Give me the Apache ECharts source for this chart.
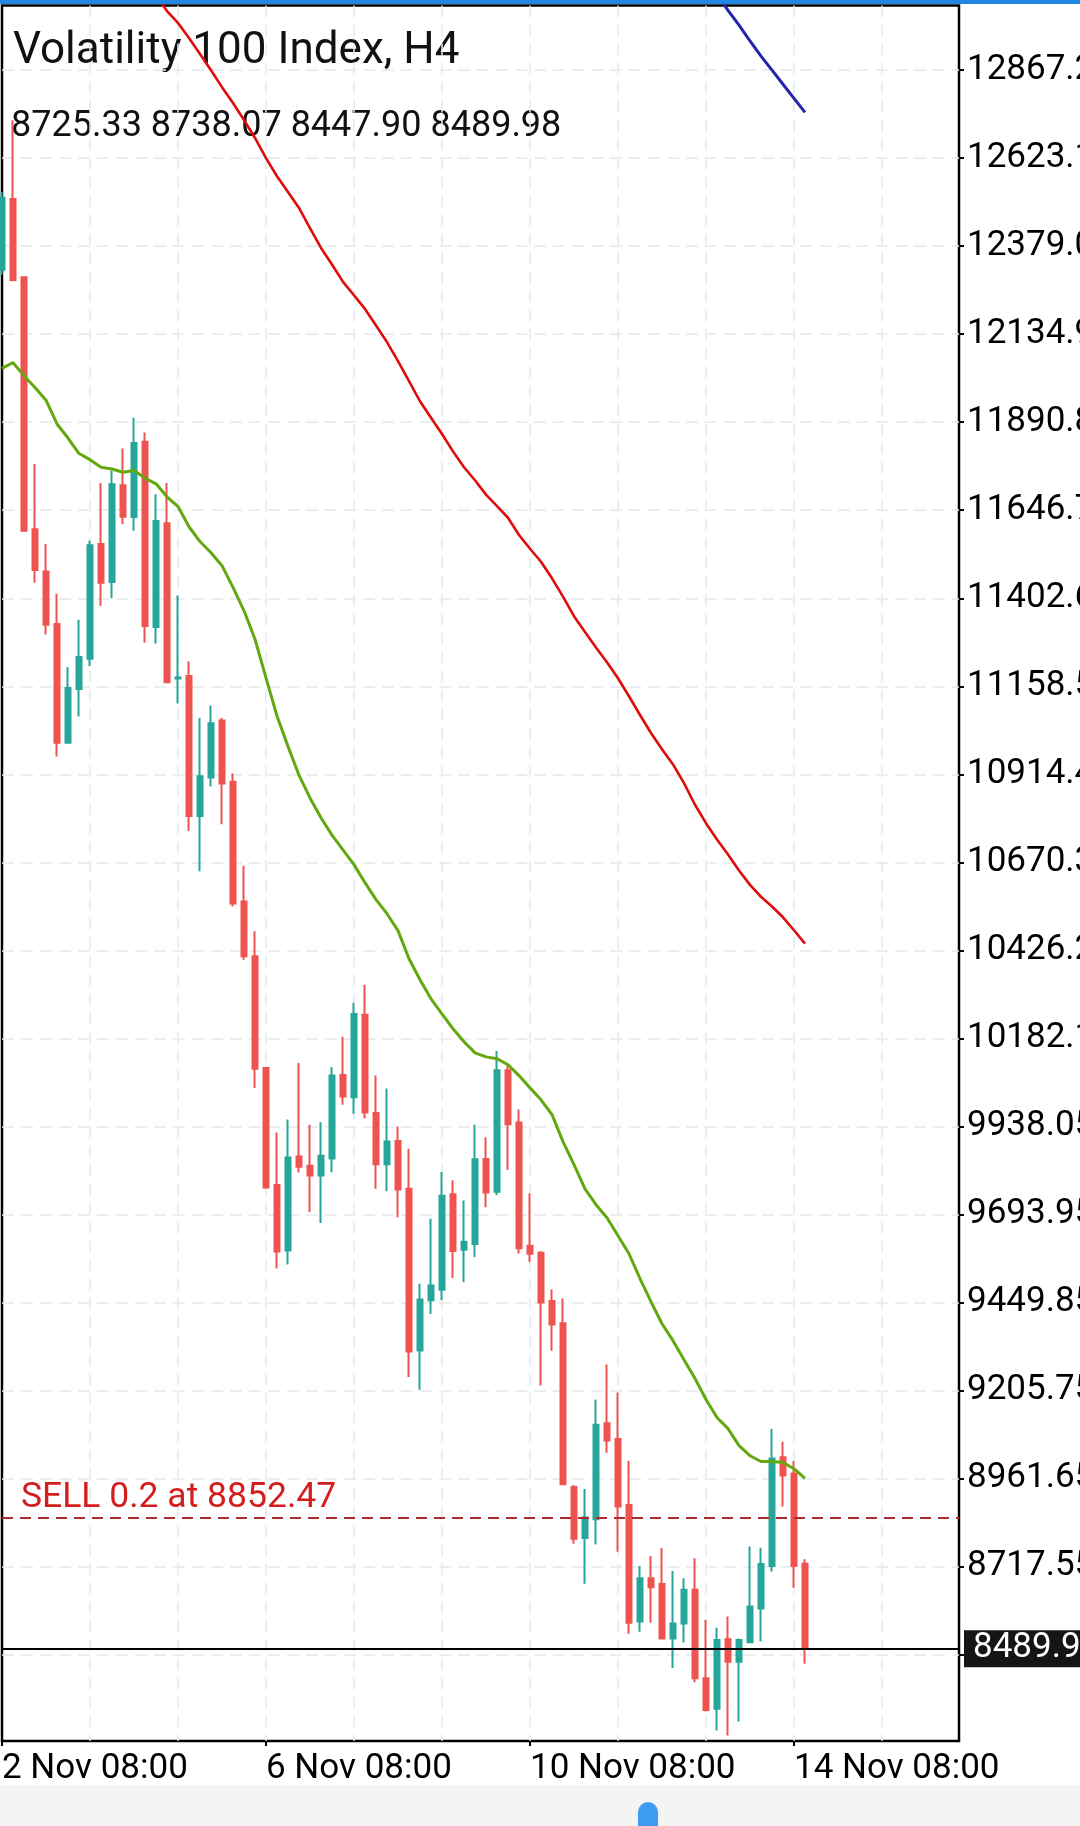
<!DOCTYPE html>
<html>
<head>
<meta charset="utf-8">
<script src="https://cdn.jsdelivr.net/npm/echarts@6/dist/echarts.min.js"></script>
<style>
html,body{margin:0;padding:0;background:#ffffff;}
#c{width:1080px;height:1826px;}
</style>
</head>
<body>
<div id="c"></div>
<script>
// ---------- data ----------
const symbolName = 'Volatility 100 Index, H4';

// H4 bars starting 2 Nov 08:00
const startDay = 2;
const startHour = 8;
const totalSlots = 88; // bars shown + empty space on the right

const barOpen = [
  12313.9, 12510, 12293, 11594, 11477, 11331, 11002, 11151, 11235, 11553,
  11448, 11716, 11628, 11837, 11323, 11611, 11180, 11187, 10799, 10906,
  11064, 10894, 10562, 10410, 10100, 9776, 9594, 9855, 9829, 9802,
  9849, 10081, 10019, 10248, 9975, 9833, 9898, 9765, 9317, 9456,
  9485, 9750, 9596, 9612, 9848, 9757, 10094, 9949, 9607, 9588,
  9454, 9392, 8938, 8797, 8849, 9115, 9071, 8888, 8565, 8685,
  8669, 8518, 8560, 8653, 8408, 8323, 8516, 8454, 8508, 8601,
  8719, 9021, 8976, 8725.33
];
const barHigh = [
  12530, 12728, 12295, 11775, 11553, 11415, 11212, 11343, 11563, 11722,
  11757, 11818, 11903, 11862, 11691, 11722, 11410, 11228, 11071, 11105,
  11071, 10917, 10661, 10479, 10101, 9921, 9957, 10114, 9943, 9950,
  10103, 10187, 10281, 10331, 10079, 10043, 9938, 9876, 9502, 9682,
  9812, 9789, 9733, 9943, 9908, 10147, 10111, 9985, 9752, 9592,
  9486, 9461, 8944, 8933, 9181, 9278, 9200, 9010, 8719, 8747,
  8769, 8705, 8685, 8741, 8570, 8548, 8579, 8518, 8773, 8770,
  9099, 9064, 9010, 8738.07
];
const barLow = [
  12300, 12282, 11588, 11446, 11302, 10964, 11000, 11075, 11215, 11382,
  11403, 11608, 11590, 11279, 11277, 11167, 11111, 10757, 10646, 10881,
  10776, 10548, 10400, 10045, 9765, 9544, 9555, 9810, 9700, 9670,
  9811, 9998, 9973, 9960, 9765, 9758, 9686, 9243, 9208, 9418,
  9456, 9518, 9507, 9576, 9714, 9748, 9817, 9586, 9562, 9220,
  9316, 8943, 8781, 8670, 8779, 9033, 8759, 8531, 8537, 8562,
  8517, 8436, 8507, 8397, 8316, 8263, 8249, 8288, 8506, 8510,
  8704, 8884, 8659, 8447.90
];
const barClose = [
  12513.5, 12285, 11590, 11481, 11329, 11002, 11154, 11240, 11550, 11446,
  11719, 11629, 11833, 11326, 11617, 11170, 11183, 10799, 10909, 11056,
  10889, 10556, 10410, 10098, 9769, 9591, 9852, 9826, 9802, 9857,
  10079, 10021, 10250, 9977, 9833, 9896, 9763, 9314, 9458, 9497,
  9746, 9593, 9618, 9847, 9755, 10094, 9944, 9600, 9585, 9450,
  9389, 8946, 8795, 8854, 9111, 9067, 8884, 8562, 8685, 8660,
  8518, 8560, 8653, 8408, 8320, 8514, 8454, 8514, 8607, 8725,
  9017, 8970, 8719, 8489.98
];

// moving averages
const maGreen = [
  12040, 12056, 12020, 11987, 11952, 11886, 11847, 11804, 11787, 11766,
  11761, 11752, 11757, 11736, 11720, 11684, 11657, 11601, 11560, 11529,
  11493, 11433, 11368, 11289, 11182, 11076, 10992, 10912, 10849, 10794,
  10746, 10705, 10664, 10614, 10567, 10528, 10481, 10403, 10345, 10292,
  10250, 10209, 10173, 10142, 10131, 10126, 10109, 10079, 10045, 10012,
  9971, 9896, 9832, 9765, 9721, 9685, 9635, 9585, 9516, 9452,
  9391, 9344, 9291, 9239, 9181, 9131, 9100, 9053, 9025, 9009,
  9009, 9006, 8989, 8962
];
const maRed = [
  null, null, null, null, null, null, null, null, null, null,
  null, null, null, null, 13075, 13031, 12998, 12956, 12912, 12867,
  12820, 12776, 12729, 12679, 12623, 12573, 12529, 12485, 12429, 12374,
  12328, 12280, 12243, 12205, 12159, 12113, 12060, 12005, 11949, 11903,
  11858, 11810, 11766, 11730, 11690, 11658, 11626, 11578, 11540, 11504,
  11458, 11407, 11353, 11309, 11266, 11225, 11181, 11131, 11079, 11029,
  10984, 10942, 10890, 10830, 10779, 10734, 10692, 10648, 10608, 10575,
  10548, 10518, 10482, 10445
];
const maBlue = [
  null, null, null, null, null, null, null, null, null, null,
  null, null, null, null, null, null, null, null, null, null,
  null, null, null, null, null, null, null, null, null, null,
  null, null, null, null, null, null, null, null, null, null,
  null, null, null, null, null, null, null, null, null, null,
  null, null, null, null, null, null, null, null, null, null,
  null, null, null, null, null, 13077, 13033, 12992, 12948, 12906,
  12867, 12828, 12789, 12750
];

// price axis ticks / labels
const yTickValues = [8473.45, 8717.55, 8961.65, 9205.75, 9449.85, 9693.95, 9938.05,
  10182.15, 10426.25, 10670.35, 10914.45, 11158.55, 11402.65, 11646.75,
  11890.85, 12134.95, 12379.05, 12623.15, 12867.25];
const yLabelValues = [8717.55, 8961.65, 9205.75, 9449.85, 9693.95, 9938.05,
  10182.15, 10426.25, 10670.35, 10914.45, 11158.55, 11402.65, 11646.75,
  11890.85, 12134.95, 12379.05, 12623.15, 12867.25];
const yMin = 8233.9;
const yMax = 13046.4;

const sellPrice = 8852.47;
const sellText = 'SELL 0.2 at 8852.47';
const lastPrice = 8489.98;

// ---------- build ----------
const categories = [];
for (let k = 0; k < totalSlots; k++) {
  const h = startHour + 4 * k;
  const d = startDay + Math.floor(h / 24);
  const hh = h % 24;
  categories.push(d + ' Nov ' + String(hh).padStart(2, '0') + ':00');
}
const candleData = barOpen.map((o, i) => [o, barClose[i], barLow[i], barHigh[i]]);
const last = barOpen.length - 1;
const ohlcText = [barOpen[last], barHigh[last], barLow[last], barClose[last]].map(v => v.toFixed(2)).join(' ');

const FONT = 'Roboto';
const gridLineStyle = { color: '#e2e9ec', width: 1.5, type: [12, 7] };

const chart = echarts.init(document.getElementById('c'), null, { renderer: 'canvas', width: 1080, height: 1826 });

const option = {
  animation: false,
  backgroundColor: '#ffffff',
  grid: { left: 2, right: 121, top: 5.5, bottom: 85, show: true, borderColor: '#000', borderWidth: 2.5, backgroundColor: 'transparent', containLabel: false, outerBoundsMode: 'none' },
  xAxis: {
    type: 'category',
    data: categories,
    boundaryGap: false,
    axisLine: { show: false },
    axisTick: { show: true, interval: (i) => i % 24 === 0, length: 5, lineStyle: { color: '#000', width: 2 } },
    axisLabel: { show: true, interval: (i) => i % 24 === 0, align: 'left', margin: 11, fontFamily: FONT, fontSize: 35, color: '#000' },
    splitLine: { show: true, interval: (i) => i % 8 === 0 && i > 0, lineStyle: gridLineStyle }
  },
  yAxis: {
    type: 'value',
    position: 'right',
    min: yMin,
    max: yMax,
    axisLine: { show: false },
    axisTick: { show: true, customValues: yTickValues, length: 5, lineStyle: { color: '#000', width: 2 } },
    axisLabel: { show: true, customValues: yLabelValues, formatter: (v) => Number(v).toFixed(2), margin: 8, fontFamily: FONT, fontSize: 35, color: '#000' },
    splitLine: { show: true, lineStyle: gridLineStyle }
  },
  series: [
    {
      type: 'candlestick',
      data: candleData,
      barWidth: 6,
      clip: true,
      z: 2,
      itemStyle: { color: '#26a69a', color0: '#ef5350', borderColor: '#26a69a', borderColor0: '#ef5350', borderWidth: 2 },
      markLine: {
        silent: true,
        symbol: ['none', 'none'],
        animation: false,
        z: 5,
        data: [
          {
            yAxis: sellPrice,
            lineStyle: { color: '#ad2a2a', width: 2, type: [11, 7] },
            label: { show: true, position: 'insideStartTop', formatter: sellText, color: '#d41d1d', fontSize: 35.5, fontFamily: FONT, distance: [19, 2] }
          },
          {
            yAxis: lastPrice,
            lineStyle: { color: '#000', width: 2, type: 'solid' },
            label: { show: true, position: 'end', formatter: lastPrice.toFixed(2), color: '#ffffff', backgroundColor: '#151515', fontSize: 35, fontFamily: FONT, lineHeight: 33, padding: [2, 60, 2, 9], distance: 5 }
          }
        ]
      }
    },
    { type: 'line', data: maGreen, symbol: 'none', z: 3, lineStyle: { color: '#64a810', width: 3 }, itemStyle: { color: '#64a810' } },
    { type: 'line', data: maRed, symbol: 'none', z: 3, lineStyle: { color: '#e00c0c', width: 2.6 }, itemStyle: { color: '#e00c0c' } },
    { type: 'line', data: maBlue, symbol: 'none', z: 3, lineStyle: { color: '#2323b0', width: 3 }, itemStyle: { color: '#2323b0' } }
  ],
  graphic: [
    { type: 'rect', z: 0, shape: { x: 0, y: 1785, width: 1080, height: 41 }, style: { fill: '#f4f4f4' } },
    { type: 'rect', z: 1, shape: { x: 638, y: 1802, width: 20, height: 30, r: [10, 10, 4, 4] }, style: { fill: '#3d9cf0' } },
    { type: 'rect', z: 10, shape: { x: 0, y: 0, width: 1080, height: 4 }, style: { fill: '#1f86e6' } },
    { type: 'text', z: 0, x: 13, y: 52, style: { text: symbolName, fontSize: 44, fontFamily: FONT, fill: '#111111', align: 'left', verticalAlign: 'middle' } },
    { type: 'text', z: 0, x: 11, y: 126.5, style: { text: ohlcText, fontSize: 36, fontFamily: FONT, fill: '#111111', align: 'left', verticalAlign: 'middle' } }
  ]
};
chart.setOption(option);
</script>
</body>
</html>
